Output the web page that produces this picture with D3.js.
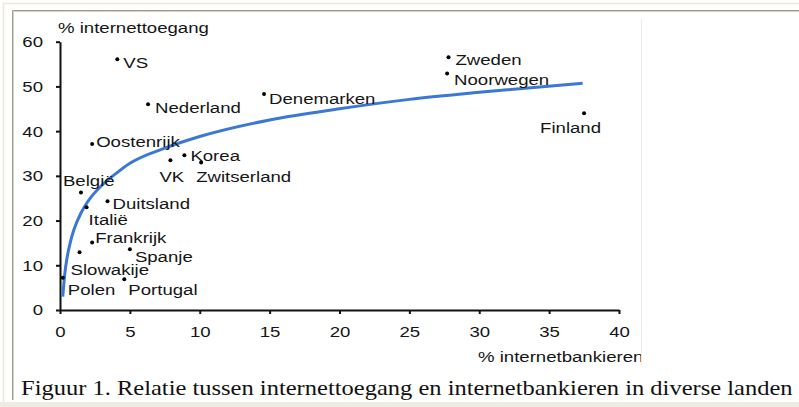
<!DOCTYPE html>
<html>
<head>
    <meta charset="utf-8">
    <title>Internettoegang en internetbankieren</title>
    <script type="text/javascript" src="https://cdn.jsdelivr.net/npm/d3@7"></script>
    <style type="text/css">
        body {
            margin: 0;
            background: #fff;
        }
        svg {
            display: block;
        }
        .chart text {
            font-family: Arial, "Liberation Sans", sans-serif;
            font-size: 15.5px;
            fill: #151515;
        }
        .axis path, .axis line {
            stroke: #111;
            stroke-width: 2px;
        }
        .caption {
            font-family: "Times New Roman", "Liberation Serif", serif;
            font-size: 21px;
            fill: #111;
        }
    </style>
</head>

<body>

<script type="text/javascript">
    // data
    var countries = ["VS", "Nederland", "Denemarken", "Oostenrijk", "Korea", "VK", "Zwitserland",
        "België", "Zweden", "Noorwegen", "Finland", "Duitsland", "Italië", "Frankrijk",
        "Spanje", "Slowakije", "Polen", "Portugal"];
    var banking = [4.1, 6.3, 14.6, 2.3, 8.9, 7.9, 10.1, 1.5, 27.8, 27.7, 37.5, 3.4, 1.9, 2.3, 5.0, 1.4, 0.2, 4.6];
    var access = [56.1, 46.0, 48.3, 37.1, 34.6, 33.5, 33.0, 26.3, 56.5, 52.9, 44.0, 24.3, 23.0, 15.1, 13.6, 12.9, 7.2, 6.9];

    // trend line
    var trendX = [0.2, 0.35, 0.5, 0.75, 1, 1.5, 2, 3, 4, 5, 7.5, 10, 15, 20, 25, 30, 37.4];
    var trendY = [3.0, 8.3, 11.6, 15.3, 18.0, 21.7, 24.3, 27.9, 30.5, 32.8, 36.2, 38.8, 42.5, 45.0, 47.1, 48.7, 50.7];

    var xTicks = [0, 5, 10, 15, 20, 25, 30, 35, 40];
    var yTicks = [0, 10, 20, 30, 40, 50, 60];

    // where each label sits relative to its dot (dx to text start, dy to baseline)
    var labelOffsets = [[6, 9], [7, 9], [5, 10], [4, 3], [6, 6], [-11, 22], [-5, 20],
        [-18, -6], [7, 8], [7, 12], [-44, 20], [5, 8], [2, 18], [3, 1],
        [5, 13], [-9, 23], [5, 17], [4, 16]];

    var w = 799, h = 407, stretch = 1.2;

    var svg = d3.select("body").append("svg")
        .attr("width", w)
        .attr("height", h);

    // frame like the original page
    svg.append("path").attr("d", "M3.5,402V3.5H799").attr("fill", "none")
        .attr("stroke", "#ebe8d7").attr("stroke-width", 1.5);
    svg.append("rect").attr("x", 0).attr("y", 402).attr("width", w).attr("height", 5).attr("fill", "#efecdf");
    svg.append("path").attr("d", "M12.5,400V10.5H799").attr("fill", "none")
        .attr("stroke", "#9d9c95").attr("stroke-width", 1);
    svg.append("path").attr("d", "M13.5,400V11.5H799").attr("fill", "none")
        .attr("stroke", "#d4d2c8").attr("stroke-width", 1);
    svg.append("line").attr("x1", 641.5).attr("x2", 641.5).attr("y1", 19).attr("y2", 365)
        .attr("stroke", "#ebebeb");

    svg.append("clipPath").attr("id", "clip")
        .append("rect").attr("x", 14).attr("y", 12).attr("width", 627).attr("height", 360);

    var g = svg.append("g").attr("class", "chart").attr("clip-path", "url(#clip)");

    var x = d3.scaleLinear().domain([0, 40]).range([60, 619]),
        y = d3.scaleLinear().domain([0, 60]).range([310, 41.7]);

    // the original picture is stretched sideways, so widen glyphs the same way
    function widen(sel) {
        sel.each(function () {
            var t = d3.select(this),
                tx = +t.attr("x") || 0,
                ty = +t.attr("y") || 0;
            t.attr("x", 0).attr("y", 0)
                .attr("transform", "translate(" + tx + "," + ty + ") scale(" + stretch + ",1)");
        });
    }

    g.append("g")
        .attr("class", "axis")
        .attr("transform", "translate(0," + y(0) + ")")
        .call(d3.axisBottom(x).tickValues(xTicks).tickSize(4).tickSizeOuter(0).tickPadding(12))
        .call(function (a) { a.selectAll("text").attr("fill", "#151515").call(widen); });

    g.append("g")
        .attr("class", "axis")
        .attr("transform", "translate(" + x(0) + ",0)")
        .call(d3.axisLeft(y).tickValues(yTicks).tickSize(4).tickSizeOuter(0).tickPadding(13))
        .call(function (a) { a.selectAll("text").attr("fill", "#151515").call(widen); });

    g.selectAll(".axis text").style("font-size", "15.5px").style("font-family", "Arial, 'Liberation Sans', sans-serif");

    g.append("text").attr("x", 58).attr("y", 33).text("% internettoegang").call(widen);
    g.append("text").attr("x", 478).attr("y", 362).text("% internetbankieren").call(widen);

    var trend = trendX.map(function (v, i) { return [v, trendY[i]]; });
    g.append("path")
        .datum(trend)
        .attr("fill", "none")
        .attr("stroke", "#3a78d4")
        .attr("stroke-width", 3)
        .attr("d", d3.line()
            .x(function (d) { return x(d[0]); })
            .y(function (d) { return y(d[1]); })
            .curve(d3.curveMonotoneX));

    var pts = countries.map(function (c, i) {
        return {name: c, bx: banking[i], ay: access[i], off: labelOffsets[i]};
    });

    g.selectAll("circle.dot")
        .data(pts)
        .enter().append("circle")
        .attr("class", "dot")
        .attr("cx", function (d) { return x(d.bx); })
        .attr("cy", function (d) { return y(d.ay); })
        .attr("r", 2)
        .attr("fill", "#000");

    g.selectAll("text.lbl")
        .data(pts)
        .enter().append("text")
        .attr("class", "lbl")
        .attr("x", function (d) { return x(d.bx) + d.off[0]; })
        .attr("y", function (d) { return y(d.ay) + d.off[1]; })
        .text(function (d) { return d.name; })
        .call(widen);

    var cap = svg.append("text")
        .attr("class", "caption")
        .text("Figuur 1. Relatie tussen internettoegang en internetbankieren in diverse landen");
    var capLen = cap.node().getComputedTextLength();
    cap.attr("transform", "translate(21,395) scale(" + (772 / capLen) + ",1)");
</script>

</body>
</html>
